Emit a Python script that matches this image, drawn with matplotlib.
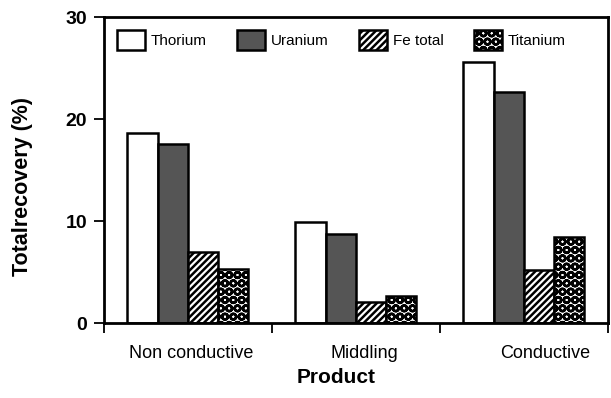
import numpy as np
import matplotlib.pyplot as plt
from matplotlib.transforms import ScaledTranslation

plt.rcParams['font.family'] = ['Liberation Sans', 'DejaVu Sans']
plt.rcParams['hatch.linewidth'] = 1.8

products = ["Non conductive", "Middling", "Conductive"]
thorium = [18.6, 9.9, 25.6]
uranium = [17.6, 8.7, 22.7]
fe_total = [7.0, 2.1, 5.2]
titanium = [5.3, 2.7, 8.4]

series = [
    ("Thorium", thorium, "white", ""),
    ("Uranium", uranium, "#555555", ""),
    ("Fe total", fe_total, "white", "/////"),
    ("Titanium", titanium, "white", "OO"),
]

fig = plt.figure(figsize=(6.11, 3.98), dpi=100)
ax = fig.add_axes([0.170, 0.188, 0.825, 0.769])

x = np.arange(len(products))
w = 0.18
for i, (name, vals, color, hatch) in enumerate(series):
    ax.bar(x + (i - 1.5) * w, vals, w, color=color, edgecolor="black",
           linewidth=1.8, hatch=hatch, label=name)

ax.set_xlim(-0.5, 2.5)
ax.set_ylim(0, 30)
ax.set_yticks([0, 10, 20, 30])
ax.set_xticks(x)
ax.set_xticklabels(products, fontsize=13)
ax.set_xticks([-0.5, 0.5, 1.5, 2.5], minor=True)
ax.tick_params(axis="x", which="major", length=0, pad=16)
ax.tick_params(axis="x", which="minor", length=7, width=1.3, direction="out")
ax.tick_params(axis="y", length=7, width=1.3, pad=5, labelsize=14)
for lab in ax.get_yticklabels():
    lab.set_fontweight("bold")
# labels in the original sit a little right of the group centres
for lab, dx in zip(ax.get_xticklabels(), [3, 8, 21]):
    lab.set_transform(lab.get_transform() + ScaledTranslation(dx / 100, 0, fig.dpi_scale_trans))
for s in ax.spines.values():
    s.set_linewidth(2)

ax.set_ylabel("Totalrecovery (%)", fontsize=15.5, fontweight="bold")
ax.yaxis.set_label_coords(-0.14, 0.445)
ax.set_xlabel("Product", fontsize=15, fontweight="bold", x=0.46, labelpad=4)

ax.legend(loc="upper left", bbox_to_anchor=(0.0, 1.0), ncol=4, frameon=False,
          fontsize=11, handlelength=1.85, handleheight=1.6, handletextpad=0.35,
          columnspacing=2.0, borderaxespad=0.45)

fig.savefig("out.png", dpi=100)
